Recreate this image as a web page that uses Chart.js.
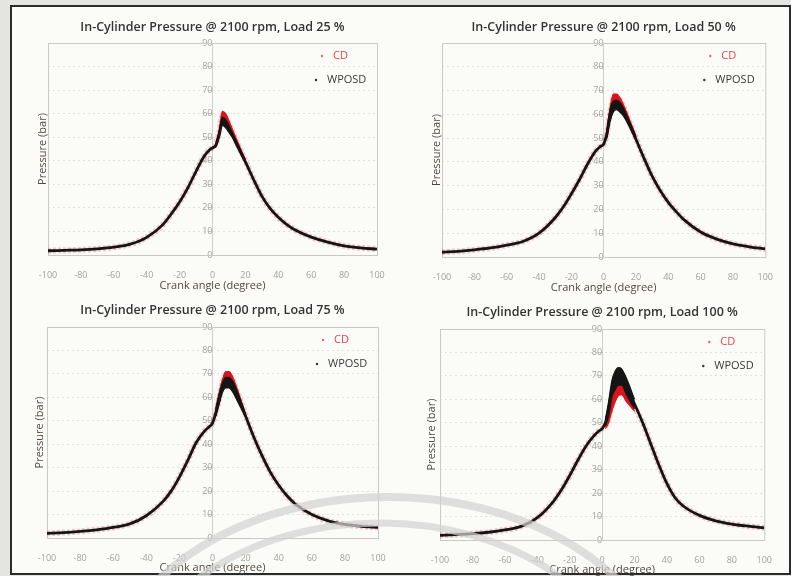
<!DOCTYPE html>
<html>
<head>
<meta charset="utf-8">
<script src="https://cdn.jsdelivr.net/npm/chart.js@4.4.0/dist/chart.umd.min.js"></script>
<style>
html, body { margin: 0; padding: 0; }
body { width: 791px; height: 576px; background: #e4e4e1; position: relative; overflow: hidden; }
#frame { position: absolute; left: 10px; top: 5px; width: 777px; height: 566px; border: 2px solid #2b2b2b; background: #fbfbf8; }
.panel { position: absolute; }
#arcs { position: absolute; left: 0; top: 0; pointer-events: none; }
</style>
</head>
<body>
<div id="frame"></div>
<div class="panel" style="left:12px;top:7px;width:388px;height:288px"><canvas id="load25"></canvas></div>
<div class="panel" style="left:406px;top:7px;width:382px;height:290px"><canvas id="load50"></canvas></div>
<div class="panel" style="left:11px;top:291px;width:390px;height:287px"><canvas id="load75"></canvas></div>
<div class="panel" style="left:404px;top:293px;width:383px;height:287px"><canvas id="load100"></canvas></div>
<svg id="arcs" width="791" height="576">
  <ellipse cx="388" cy="700" rx="285" ry="203" fill="none" stroke="rgba(210,210,208,0.7)" stroke-width="8"/>
  <ellipse cx="380" cy="700" rx="250" ry="177" fill="none" stroke="rgba(210,210,208,0.7)" stroke-width="7"/>
</svg>
<script>
// crank angle (degree) for the traces, and the narrower window around the peak
const crankAngle = [-100,-90,-80,-70,-60,-50,-40,-30,-25,-20,-15,-10,-5,-2,0,2,4,6,8,10,12,15,20,25,30,35,40,45,50,60,70,80,90,100];
const peakAngle = [2,4,6,8,10,12,15,20];
const seriesNames = ["CD", "WPOSD"];
const yTicks = [0, 90, 10];   // min, max, step
const xTicks = [-100, 100, 20];

// Load 25 %
const wposd25 = [1.8,2.0,2.2,2.6,3.3,4.6,7.5,13,17.5,22.5,28.5,35.5,42,44.5,45.5,46.5,51,57,56,53.5,51,46.5,39.5,32,25,19.8,16,13,10.7,7.6,5.5,3.9,3,2.5];
const cd25    = [1.8,2.0,2.2,2.6,3.3,4.6,7.5,13,17.5,22.5,28.5,35.5,42,44.5,45.5,47,51.5,59,58,55.5,52.5,47.5,40,32,25,19.8,16,13,10.7,7.6,5.5,3.9,3,2.5];
const wposdLow25  = [46,50,55,54,52,50,46,39];
const wposdHigh25 = [47,52,58.5,57.5,55,52,47.5,40];
const cdLow25  = [46,50,56,55,53,51,46.5,39.5];
const cdHigh25 = [47.5,53,61,60,57,53.5,48.5,40.5];

// Load 50 %
const wposd50 = [2,2.4,3,3.8,5,6.5,10,16.5,21,26.5,32.5,39,44.5,46.5,47.5,52,60,64,65,64,62,57.5,49.5,41.5,34,28,23,19,15.5,10.5,7.5,5.5,4.3,3.4];
const cd50    = [2,2.4,3,3.8,5,6.5,10,16.5,21,26.5,32.5,39,44.5,46.5,47.5,52,61,66.5,67.5,66,63.5,58.5,50,41.5,34,28,23,19,15.5,10.5,7.5,5.5,4.3,3.4];
const wposdLow50  = [50,57,61,62,61,59.5,56,49];
const wposdHigh50 = [53,62,65.5,66,65,63,58.5,50.5];
const cdLow50  = [50,58,62,63,62,60,56.5,49.5];
const cdHigh50 = [53.5,63,68.5,68.5,67,64.5,59.5,51];

// Load 75 %
const wposd75 = [2,2.3,2.8,3.5,4.5,6,9.5,15.5,20,26,33,40.5,45.5,47.5,49,53.5,59.5,65,67.5,67.5,66,61,52,43,35,28,22.5,18,14.5,10,7.3,5.8,5,4.5];
const cd75    = [2,2.3,2.8,3.5,4.5,6,9.5,15.5,20,26,33,40.5,45.5,47.5,49,53.5,59.5,66,69,69,67.5,62,52.5,43,35,28,22.5,18,14.5,10,7.3,5.8,5,4.5];
const wposdLow75  = [52,57,62,64,64,62.5,58.5,51.5];
const wposdHigh75 = [55,61,66,68.5,68.5,67,62.5,52.5];
const cdLow75  = [52,57.5,63,65,65,63.5,59,52];
const cdHigh75 = [55.5,62,67.5,71,71,69,63.5,53];

// Load 100 %
const wposd100 = [2,2.3,2.7,3.3,4.3,5.8,9.5,16.5,21.5,27.5,34,40,44.5,46.5,47.5,50,56,64.5,68,69.5,69.5,65.5,58,50,41,32,24,18,14.5,10.5,8.2,6.8,5.9,5.2];
const cd100    = [2,2.3,2.7,3.3,4.3,5.8,9.5,16.5,21.5,27.5,34,40,44.5,46.5,47.5,48.5,52,57.5,62.5,64.5,64.5,61.5,56.5,50,41,32,24,18,14.5,10.5,8.2,6.8,5.9,5.2];
const wposdLow100  = [48.5,53,61,64,66,66,62,56];
const wposdHigh100 = [51.5,59,68,72,73.5,73,69,60];
const cdLow100  = [47.5,50,55,59,61.5,62,59,55];
const cdHigh100 = [49.5,54,60,65.5,67.5,67.5,64,58];

Chart.defaults.font.family = "'Open Sans', 'DejaVu Sans', sans-serif";

const pts = (xs, ys) => xs.map((x, i) => ({ x: x, y: ys[i] }));

// frame around the plot area
const plotFrame = {
    id: 'plotFrame',
    beforeDatasetsDraw(chart) {
        const a = chart.chartArea, ctx = chart.ctx;
        ctx.save();
        ctx.strokeStyle = '#c9c9c6';
        ctx.lineWidth = 1;
        ctx.strokeRect(a.left + 0.5, a.top + 0.5, a.right - a.left, a.bottom - a.top);
        ctx.restore();
    }
};

// legend sits inside the plot, top right
const insideLegend = {
    id: 'insideLegend',
    afterDatasetsDraw(chart, args, opts) {
        const a = chart.chartArea, ctx = chart.ctx;
        ctx.save();
        ctx.font = "11px 'Open Sans', sans-serif";
        ctx.textBaseline = 'middle';
        opts.items.forEach(item => {
            const x = a.right - item.dx, y = a.top + item.dy;
            ctx.fillStyle = item.dot;
            ctx.beginPath();
            ctx.arc(x - 11, y, 1.2, 0, Math.PI * 2);
            ctx.fill();
            ctx.fillStyle = item.color;
            ctx.fillText(item.text, x, y);
        });
        ctx.restore();
    }
};

function drawPanel(id, title, wp, cd, wpLo, wpHi, cdLo, cdHi, lay) {
    const lineBase = { pointRadius: 0, cubicInterpolationMode: 'monotone' };
    return new Chart(document.getElementById(id), {
        type: 'line',
        data: {
            datasets: [
                Object.assign({ label: 'WPOSD', data: pts(crankAngle, wp), borderColor: '#151515', borderWidth: 2.8, fill: false, order: 0 }, lineBase),
                Object.assign({ label: 'WPOSD band', data: pts(peakAngle, wpHi), borderColor: '#151515', backgroundColor: '#151515', borderWidth: 1.2, fill: '+1', order: 1 }, lineBase),
                Object.assign({ label: 'WPOSD band low', data: pts(peakAngle, wpLo), borderColor: '#151515', borderWidth: 1.2, fill: false, order: 1 }, lineBase),
                Object.assign({ label: 'CD band', data: pts(peakAngle, cdHi), borderColor: '#d9141c', backgroundColor: '#d9141c', borderWidth: 1.2, fill: '+1', order: 2 }, lineBase),
                Object.assign({ label: 'CD band low', data: pts(peakAngle, cdLo), borderColor: '#d9141c', borderWidth: 1.2, fill: false, order: 2 }, lineBase),
                Object.assign({ label: 'CD', data: pts(crankAngle, cd), borderColor: 'rgba(220,90,90,0.32)', borderWidth: 6, borderDash: [3, 2], fill: false, order: 3 }, lineBase)
            ]
        },
        options: {
            responsive: true,
            maintainAspectRatio: false,
            animation: false,
            layout: { padding: { left: lay.padLeft, right: lay.padRight, top: 0, bottom: 0 } },
            plugins: {
                legend: { display: false },
                tooltip: { enabled: false },
                title: {
                    display: true, text: title, fullSize: false, color: '#333333',
                    font: { size: 12.5, weight: '600' },
                    padding: { top: lay.titleTop, bottom: lay.titleBottom }
                },
                insideLegend: {
                    items: [
                        { text: seriesNames[0], color: '#e2474a', dot: '#e36a6a', dx: 44, dy: 13 },
                        { text: seriesNames[1], color: '#3a3a3a', dot: '#333', dx: 50, dy: 37 }
                    ]
                }
            },
            scales: {
                x: {
                    type: 'linear', position: 'bottom', min: xTicks[0], max: xTicks[1],
                    ticks: { stepSize: xTicks[2], color: '#a3a19c', font: { size: 9 }, padding: 15, maxRotation: 0 },
                    grid: { drawOnChartArea: false, drawTicks: false },
                    border: { color: '#c4c4c1' },
                    title: { display: true, text: 'Crank angle (degree)', color: '#524a40', font: { size: 11 }, padding: { top: 0, bottom: lay.xTitleBottom } },
                    afterFit: s => { s.height = 40; }
                },
                y: {
                    type: 'linear', position: { x: 0 }, min: yTicks[0], max: yTicks[1],
                    ticks: { stepSize: yTicks[2], color: '#a3a19c', font: { size: 9 }, padding: 2 },
                    grid: { color: '#e0e0dc', tickLength: 4, tickColor: '#c4c4c1' },
                    border: { color: '#cfcfcb', dash: [2, 3] }
                },
                yTitle: {
                    type: 'linear', position: 'left', min: yTicks[0], max: yTicks[1],
                    ticks: { display: false },
                    grid: { display: false, drawTicks: false },
                    border: { display: false },
                    title: { display: true, text: 'Pressure (bar)', color: '#524a40', font: { size: 11 }, padding: { top: 4, bottom: 0 } },
                    afterFit: s => { s.width = lay.titleAxisW; }
                }
            }
        },
        plugins: [plotFrame, insideLegend]
    });
}

drawPanel('load25', 'In-Cylinder Pressure @ 2100 rpm, Load 25 %', wposd25, cd25, wposdLow25, wposdHigh25, cdLow25, cdHigh25,
    { padLeft: 20, padRight: 23, titleAxisW: 16, titleTop: 12.5, titleBottom: 8.5, xTitleBottom: 3 });
drawPanel('load50', 'In-Cylinder Pressure @ 2100 rpm, Load 50 %', wposd50, cd50, wposdLow50, wposdHigh50, cdLow50, cdHigh50,
    { padLeft: 20, padRight: 13, titleAxisW: 16, titleTop: 12.5, titleBottom: 8.5, xTitleBottom: 3 });
drawPanel('load75', 'In-Cylinder Pressure @ 2100 rpm, Load 75 %', wposd75, cd75, wposdLow75, wposdHigh75, cdLow75, cdHigh75,
    { padLeft: 18, padRight: 23, titleAxisW: 18, titleTop: 11.5, titleBottom: 9.5, xTitleBottom: 4 });
drawPanel('load100', 'In-Cylinder Pressure @ 2100 rpm, Load 100 %', wposd100, cd100, wposdLow100, wposdHigh100, cdLow100, cdHigh100,
    { padLeft: 17, padRight: 15, titleAxisW: 19, titleTop: 11.5, titleBottom: 9.5, xTitleBottom: 4 });
</script>
</body>
</html>
